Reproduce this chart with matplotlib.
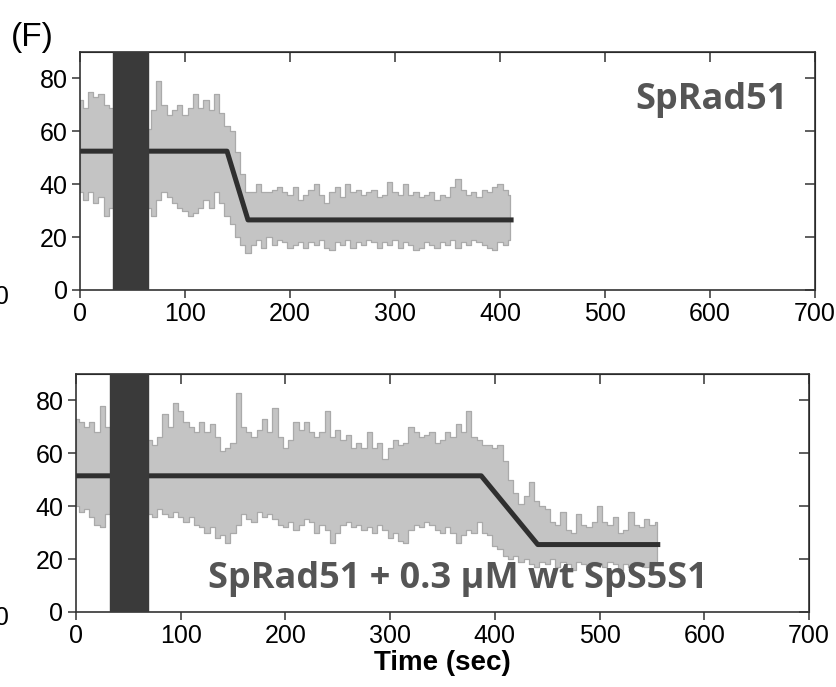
import numpy as np
import matplotlib.pyplot as plt

# ---- data ----
# top panel: SpRad51 alone (trace envelope sampled every 5 s)
top_t = np.arange(0, 415, 5)
top_upper = [72, 69, 75, 73, 74, 70, 69,
             70, 68, 72, 70, 68, 66,
             61, 68, 79, 70, 66, 68, 70, 66, 69, 74, 69, 72, 68, 74, 67, 62,
             60, 52, 44, 37,
             37, 40, 37, 37, 38, 39, 37, 36, 39, 34, 36,
             38, 40, 36, 33, 37, 39, 35, 40, 37, 38, 36, 37, 38, 35, 36, 41, 37, 36, 40, 36,
             37, 35, 36, 37, 34, 36, 35, 39, 42, 38, 36, 37, 35, 38, 37, 39, 40, 38, 36]
top_lower = [37, 34, 37, 33, 35, 28, 31,
             34, 33, 35, 32, 34, 33,
             31, 28, 34, 37, 35, 33, 31, 30, 28, 29, 31, 34, 31, 37, 33, 28,
             25, 20, 17, 14,
             17, 19, 16, 20, 17, 19, 18, 16, 17, 18, 16,
             18, 17, 19, 16, 15, 18, 17, 19, 16, 18, 17, 19, 18, 16, 18, 17, 19, 16, 18, 17,
             15, 16, 18, 17, 16, 18, 17, 19, 16, 18, 17, 19, 18, 17, 16, 15, 18, 17, 19]
top_fit_t = [0, 140, 160, 413]
top_fit_y = [52.5, 52.5, 26.5, 26.5]
top_band = (31, 65)

# bottom panel: SpRad51 + 0.3 uM wt SpS5S1
bot_t = np.arange(0, 560, 5)
bot_upper = [73, 72, 70, 72, 68, 78, 70,
             70, 69, 71, 68, 70, 69, 67,
             65, 63, 66, 75, 70, 79, 76, 72, 70, 68, 72, 68, 71, 66, 61, 62, 64, 83, 70, 68,
             66, 69, 73, 68, 77, 66, 62, 65, 72, 69, 72, 68, 66, 68, 76, 66, 69, 65, 67, 62,
             64, 62, 68, 62, 64, 58, 62, 65, 63, 64, 70, 68, 66, 67, 68, 64, 65, 68, 66, 71,
             68, 76, 66, 65, 63, 63, 62, 63, 57, 50, 45, 41, 44, 49, 42, 40, 39, 34, 33, 38,
             31, 30, 37, 33, 32, 34, 40, 34, 33, 36, 30, 31, 38, 33, 32, 35, 33, 34]
bot_lower = [40, 38, 39, 36, 33, 32, 37,
             36, 35, 37, 36, 35, 36, 37,
             37, 36, 39, 37, 36, 38, 36, 34, 36, 33, 32, 30, 32, 28, 29, 26, 30, 33, 37, 35,
             34, 38, 36, 37, 35, 33, 32, 34, 31, 33, 35, 34, 30, 33, 31, 26, 30, 33, 34, 32,
             33, 31, 32, 30, 33, 31, 28, 30, 27, 26, 31, 33, 32, 34, 33, 31, 30, 32, 30, 26,
             29, 31, 30, 34, 30, 29, 25, 24, 21, 20, 21, 19, 20, 18, 17, 19, 18, 20, 17, 19,
             18, 16, 19, 18, 17, 19, 18, 17, 19, 18, 16, 18, 17, 19, 18, 17, 19, 18]
bot_fit_t = [0, 387, 441, 558]
bot_fit_y = [51.5, 51.5, 25.5, 25.5]
bot_band = (32, 69)

xticks = [0, 100, 200, 300, 400, 500, 600, 700]
yticks = [0, 20, 40, 60, 80]

plt.rcParams['font.family'] = ['Liberation Sans', 'DejaVu Sans']

fig = plt.figure(figsize=(8.37, 6.87), dpi=100)
ax1 = fig.add_axes([0.0956, 0.5779, 0.878, 0.3464])
ax2 = fig.add_axes([0.0908, 0.1092, 0.8757, 0.3464])


def draw_panel(ax, t, lo, hi, fit_t, fit_y, band):
    ax.fill_between(t, lo, hi, step='mid', facecolor='#c4c4c4',
                    edgecolor='#aaaaaa', linewidth=0.9, zorder=1)
    ax.plot(fit_t, fit_y, color='#2f2f2f', lw=3.6, solid_capstyle='butt', zorder=2)
    ax.axvspan(band[0], band[1], color='#3a3a3a', zorder=3)
    ax.set_xlim(0, 700)
    ax.set_ylim(0, 90)
    ax.set_xticks(xticks)
    ax.set_yticks(yticks)
    ax.tick_params(direction='out', length=6, width=1.1, labelsize=18,
                   color='#333333', pad=3)
    for s in ax.spines.values():
        s.set_color('#333333')
        s.set_linewidth(1.2)
    # inward ticks on the top and right spines
    sx = ax.secondary_xaxis('top')
    sx.set_xticks(xticks)
    sx.tick_params(direction='in', length=7, width=1.1, labeltop=False, color='#333333')
    sy = ax.secondary_yaxis('right')
    sy.set_yticks(yticks)
    sy.tick_params(direction='in', length=7, width=1.1, labelright=False, color='#333333')


draw_panel(ax1, top_t, top_lower, top_upper, top_fit_t, top_fit_y, top_band)
draw_panel(ax2, bot_t, bot_lower, bot_upper, bot_fit_t, bot_fit_y, bot_band)

ax1.text(0.963, 0.80, 'SpRad51', transform=ax1.transAxes, ha='right', va='center',
         fontsize=26, fontweight='bold', color='#555555', family='Open Sans', zorder=5)
ax2.text(0.521, 0.14, 'SpRad51 + 0.3 µM wt SpS5S1', transform=ax2.transAxes,
         ha='center', va='center', fontsize=26, fontweight='bold', color='#555555',
         family='Open Sans', zorder=5)

ax2.set_xlabel('Time (sec)', fontsize=20, fontweight='bold', labelpad=1)

fig.text(0.013, 0.945, '(F)', fontsize=24, va='center', ha='left')
# clipped tick labels of the neighbouring panel at the left edge
fig.text(0.011, 0.568, '700', fontsize=18, ha='right', va='center')
fig.text(0.011, 0.100, '700', fontsize=18, ha='right', va='center')

fig.savefig('out.png', dpi=100)
